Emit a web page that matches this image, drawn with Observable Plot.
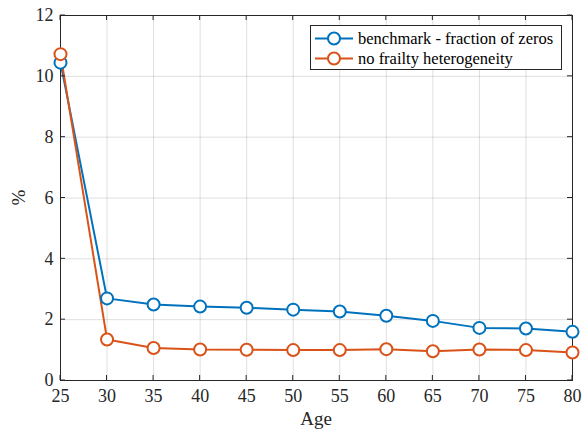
<!DOCTYPE html>
<html>
<head>
<meta charset="utf-8">
<script src="https://cdn.jsdelivr.net/npm/d3@7"></script>
<script src="https://cdn.jsdelivr.net/npm/@observablehq/plot@0.6"></script>
<style>
body { margin: 0; background: #fff; }
#chart { position: relative; width: 582px; height: 431px; }
</style>
</head>
<body>
<div id="chart"></div>
<script>
const ages = [25, 30, 35, 40, 45, 50, 55, 60, 65, 70, 75, 80];
const benchmark = [10.45, 2.7, 2.5, 2.43, 2.39, 2.33, 2.27, 2.13, 1.96, 1.73, 1.71, 1.6];
const noFrailty = [10.73, 1.35, 1.07, 1.02, 1.01, 1.0, 1.0, 1.03, 0.96, 1.02, 1.0, 0.92];
const seriesNames = ["benchmark - fraction of zeros", "no frailty heterogeneity"];
const seriesColors = ["#0072BD", "#D95319"];
const xTicks = [25, 30, 35, 40, 45, 50, 55, 60, 65, 70, 75, 80];
const yTicks = [0, 2, 4, 6, 8, 10, 12];

const data = [];
ages.forEach((a, i) => {
  data.push({age: a, value: benchmark[i], series: seriesNames[0]});
  data.push({age: a, value: noFrailty[i], series: seriesNames[1]});
});

const axisColor = "#262626";
const serif = "'Liberation Serif', 'Times New Roman', serif";
const plot = Plot.plot({
  width: 582,
  height: 431,
  marginLeft: 60,
  marginRight: 10,
  marginTop: 15,
  marginBottom: 51,
  style: {fontFamily: serif, fontSize: "18px", color: axisColor, background: "white"},
  x: {domain: [25, 80]},
  y: {domain: [0, 12]},
  color: {domain: seriesNames, range: seriesColors},
  marks: [
    Plot.gridX(xTicks, {stroke: "#000", strokeOpacity: 0.13}),
    Plot.gridY(yTicks, {stroke: "#000", strokeOpacity: 0.13}),
    Plot.axisX(xTicks, {anchor: "bottom", tickSize: 0, tickPadding: 9, label: null, fontSize: 18, fill: axisColor}),
    Plot.axisY(yTicks, {anchor: "left", tickSize: 0, tickPadding: 7, label: null, fontSize: 18, fill: axisColor}),
    Plot.frame({stroke: axisColor, strokeWidth: 1}),
    Plot.line(data, {x: "age", y: "value", stroke: "series", strokeWidth: 2}),
    Plot.dot(data, {x: "age", y: "value", stroke: "series", fill: "white", r: 6, strokeWidth: 2})
  ]
});
document.getElementById("chart").appendChild(plot);

const svg = d3.select(plot);
const sx = plot.scale("x"), sy = plot.scale("y");
// inside ticks (MATLAB style)
const tk = 5;
const y0 = sy.apply(0), y12 = sy.apply(12), x0 = sx.apply(25), x1 = sx.apply(80);
const tg = svg.append("g").attr("stroke", axisColor).attr("stroke-width", 1);
xTicks.forEach(t => {
  const x = sx.apply(t);
  tg.append("line").attr("x1", x).attr("x2", x).attr("y1", y0).attr("y2", y0 - tk);
  tg.append("line").attr("x1", x).attr("x2", x).attr("y1", y12).attr("y2", y12 + tk);
});
yTicks.forEach(t => {
  const y = sy.apply(t);
  tg.append("line").attr("x1", x0).attr("x2", x0 + tk).attr("y1", y).attr("y2", y);
  tg.append("line").attr("x1", x1).attr("x2", x1 - tk).attr("y1", y).attr("y2", y);
});

// axis labels
svg.append("text").attr("x", (x0 + x1) / 2).attr("y", 425).attr("text-anchor", "middle")
  .attr("font-family", serif).attr("font-size", 19).attr("fill", axisColor).text("Age");
svg.append("text").attr("transform", `translate(25,${(y0 + y12) / 2}) rotate(-90)`).attr("text-anchor", "middle")
  .attr("font-family", serif).attr("font-size", 19).attr("fill", axisColor).text("%");

// legend
const lg = svg.append("g");
lg.append("rect").attr("x", 310.5).attr("y", 25.5).attr("width", 251).attr("height", 44)
  .attr("fill", "white").attr("stroke", axisColor).attr("stroke-width", 1);
seriesNames.forEach((name, i) => {
  const cy = 38.5 + i * 20;
  lg.append("line").attr("x1", 315).attr("x2", 353).attr("y1", cy).attr("y2", cy)
    .attr("stroke", seriesColors[i]).attr("stroke-width", 2);
  lg.append("circle").attr("cx", 334).attr("cy", cy).attr("r", 6)
    .attr("fill", "white").attr("stroke", seriesColors[i]).attr("stroke-width", 2);
  lg.append("text").attr("x", 358).attr("y", cy).attr("dy", "0.35em").attr("text-anchor", "start")
    .attr("font-family", serif).attr("font-size", 16.5).attr("fill", "#000").text(name);
});
</script>
</body>
</html>
